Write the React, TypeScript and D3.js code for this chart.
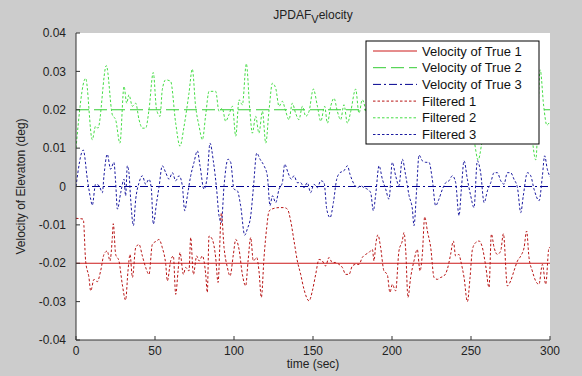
import React from 'react';
import * as d3 from 'd3';

const W = 582;
const H = 376;
const xDomain: [number, number] = [0, 300];
const yDomain: [number, number] = [-0.04, 0.04];
const xTicks = [0, 50, 100, 150, 200, 250, 300];
const yTicks = [-0.04, -0.03, -0.02, -0.01, 0, 0.01, 0.02, 0.03, 0.04];
const yTickLabels = ['-0.04', '-0.03', '-0.02', '-0.01', '0', '0.01', '0.02', '0.03', '0.04'];
const trueValues = [-0.02, 0.02, 0];
const legendLabels = ['Velocity of True 1', 'Velocity of True 2', 'Velocity of True 3', 'Filtered 1', 'Filtered 2', 'Filtered 3'];

type P = [number, number];

const filtered1: P[] = [
  [0, -0.0083], [4.6, -0.0085], [6.1, -0.0194], [8.2, -0.0237], [9.3, -0.0272], [11.4, -0.0242], [13.5, -0.0248],
  [15.6, -0.022], [17.7, -0.0177], [19.8, -0.0168], [21.5, -0.0194], [23.0, -0.0133], [23.6, -0.0097], [25.1, -0.0177],
  [27.2, -0.0194], [29.3, -0.0255], [31.4, -0.0296], [32.9, -0.022], [34.2, -0.0177], [35.7, -0.0237], [37.8, -0.0159],
  [39.9, -0.0151], [42.0, -0.0181], [44.1, -0.0211], [46.2, -0.0229], [48.3, -0.0151], [51.0, -0.0142], [52.5, -0.0138],
  [54.6, -0.0159], [56.8, -0.0203], [57.8, -0.0246], [59.9, -0.0194], [61.6, -0.0181], [63.1, -0.0281], [64.6, -0.022],
  [65.8, -0.0172], [68.0, -0.0229], [69.4, -0.0211], [71.5, -0.022], [72.6, -0.0133], [74.3, -0.0229], [76.4, -0.0181],
  [77.9, -0.0194], [80.0, -0.0181], [82.1, -0.0229], [83.1, -0.0276], [84.2, -0.0129], [86.3, -0.0138], [88.4, -0.0185],
  [89.9, -0.025], [92.0, -0.0069], [93.7, -0.0159], [95.8, -0.0211], [97.5, -0.0233], [99.6, -0.0177], [101.1, -0.0138],
  [103.2, -0.0164], [105.3, -0.0229], [107.4, -0.0259], [108.9, -0.0194], [110.6, -0.0133], [112.2, -0.0194],
  [114.4, -0.0185], [115.8, -0.022], [117.3, -0.0289], [119.0, -0.0185], [120.7, -0.0107], [122.2, -0.0064],
  [125.3, -0.0057], [128.5, -0.0055], [131.7, -0.0055], [133.8, -0.0059], [135.9, -0.009], [138.0, -0.0142],
  [140.1, -0.0194], [142.2, -0.0229], [144.3, -0.0268], [147.5, -0.0298], [149.6, -0.0272], [151.7, -0.0229],
  [153.8, -0.019], [155.9, -0.0194], [158.0, -0.0207], [160.1, -0.0185], [162.2, -0.0198], [164.3, -0.0198],
  [166.5, -0.0203], [168.6, -0.0211], [170.7, -0.0229], [172.8, -0.0229], [174.9, -0.0207], [177.0, -0.0203],
  [179.1, -0.0203], [181.2, -0.0185], [183.3, -0.0177], [185.4, -0.0172], [187.6, -0.0164], [188.6, -0.0194],
  [189.7, -0.0151], [191.1, -0.0126], [192.8, -0.0159], [194.9, -0.022], [197.0, -0.0229], [198.7, -0.0276],
  [200.2, -0.0255], [202.3, -0.0272], [204.4, -0.0168], [206.5, -0.0142], [207.6, -0.012], [208.7, -0.0168],
  [210.1, -0.0289], [211.8, -0.0237], [213.9, -0.0194], [216.0, -0.0164], [217.7, -0.022], [219.2, -0.0177],
  [220.7, -0.0079], [222.4, -0.0116], [224.5, -0.0159], [226.6, -0.0237], [228.7, -0.0242], [230.8, -0.0237],
  [232.9, -0.0233], [235.0, -0.0216], [237.1, -0.0177], [238.8, -0.0142], [240.3, -0.0181], [242.4, -0.0177],
  [243.5, -0.0194], [245.6, -0.0237], [247.7, -0.03], [249.4, -0.0237], [250.9, -0.0164], [253.0, -0.0146],
  [255.1, -0.0142], [257.2, -0.0159], [259.3, -0.0207], [261.4, -0.0263], [262.9, -0.0124], [264.6, -0.0159],
  [266.7, -0.0177], [268.8, -0.0168], [270.5, -0.0123], [273.0, -0.0259], [275.1, -0.0246], [277.2, -0.022],
  [279.4, -0.0194], [281.5, -0.0181], [283.6, -0.0159], [285.2, -0.0116], [286.7, -0.0185], [288.8, -0.022],
  [290.9, -0.0246], [293.0, -0.0255], [295.2, -0.0203], [297.3, -0.0255], [299.4, -0.0159], [300, -0.016],
];

const filtered2: P[] = [
  [0, 0.01], [6.1, 0.0282], [10.3, 0.0122], [12.4, 0.0157], [13.9, 0.0152], [19.2, 0.0315], [23.0, 0.0187],
  [25.1, 0.0174], [27.8, 0.0113], [30.4, 0.0261], [32.1, 0.0217], [33.5, 0.0239], [35.7, 0.0209], [37.8, 0.0217],
  [39.9, 0.0174], [42.0, 0.0152], [44.1, 0.0152], [46.2, 0.02], [48.9, 0.0297], [51.0, 0.02], [53.2, 0.0183],
  [54.6, 0.0252], [56.8, 0.0278], [59.9, 0.0274], [63.1, 0.0165], [65.8, 0.0105], [68.4, 0.0157], [71.5, 0.0243],
  [73.6, 0.0306], [75.7, 0.0209], [77.9, 0.0157], [80.0, 0.0122], [82.1, 0.0187], [84.2, 0.0248], [88.4, 0.0248],
  [90.5, 0.0196], [92.6, 0.0204], [94.7, 0.017], [96.8, 0.0187], [99.0, 0.0209], [101.1, 0.0131], [103.2, 0.0226],
  [105.3, 0.0213], [107.8, 0.032], [110.0, 0.02], [111.6, 0.0139], [113.7, 0.0183], [115.8, 0.0139], [118.0, 0.0196],
  [120.1, 0.0113], [122.2, 0.02], [124.3, 0.0269], [126.4, 0.0256], [128.5, 0.0209], [130.6, 0.0222], [132.7, 0.0196],
  [134.8, 0.0174], [136.9, 0.0217], [139.0, 0.0191], [141.1, 0.0174], [143.3, 0.0209], [145.4, 0.0183],
  [147.5, 0.0196], [150.2, 0.0254], [152.8, 0.0209], [154.9, 0.017], [157.4, 0.0209], [159.1, 0.0165],
  [161.2, 0.0209], [163.3, 0.023], [165.4, 0.0196], [167.5, 0.0174], [169.6, 0.0213], [171.8, 0.0165],
  [173.9, 0.0196], [177.0, 0.0254], [179.1, 0.0191], [181.2, 0.0226], [185, 0.018], [188, 0.024], [192, 0.017],
  [196, 0.022], [200, 0.026], [204, 0.019], [208, 0.015], [212, 0.021], [216, 0.027], [220, 0.02], [224, 0.016],
  [228, 0.022], [232, 0.019], [236, 0.025], [240, 0.018], [244, 0.014], [248, 0.021], [252, 0.012], [254.5, 0.0069],
  [256.5, 0.0105], [259, 0.019], [263, 0.024], [267, 0.018], [271, 0.022], [275, 0.016], [278.5, 0.0112],
  [282, 0.018], [285, 0.024], [288, 0.015], [291, 0.0069], [293.8, 0.0304], [296, 0.021], [298, 0.016], [300, 0.017],
];

const filtered3: P[] = [
  [0, 0.0], [4.6, 0.0095], [7.2, 0.0019], [9.3, -0.0033], [10.3, -0.0049], [12.4, 0.0006], [14.6, 0.0002],
  [16.7, -0.0016], [17.7, 0.0028], [19.8, 0.0084], [21.9, 0.0045], [24.0, 0.0063], [25.1, 0.001], [26.2, -0.0059],
  [28.3, -0.0016], [30.4, 0.0019], [31.4, -0.0024], [32.5, 0.0054], [33.5, 0.0036], [34.6, -0.0033], [36.3, -0.0102],
  [37.8, -0.0033], [39.9, 0.001], [42.0, 0.0028], [44.1, 0.0006], [46.2, 0.0019], [47.7, -0.0007], [48.9, -0.0098],
  [51.0, -0.0042], [52.5, -0.0003], [54.6, 0.0054], [56.8, 0.0036], [58.9, 0.0019], [61.0, 0.0036], [63.1, 0.0015],
  [65.2, 0.0028], [67.3, 0.0002], [68.8, -0.0063], [70.5, -0.0024], [72.6, 0.0028], [74.7, 0.0063], [76.8, 0.0093],
  [78.5, 0.0054], [81.0, -0.0007], [83.1, 0.0028], [84.8, 0.0113], [86.9, 0.0067], [89.0, -0.0007], [90.5, -0.0076],
  [92.0, -0.0094], [93.7, 0.0002], [96.2, 0.0071], [97.9, 0.0063], [100.0, -0.0007], [102.1, -0.0011],
  [104.2, -0.005], [106.8, -0.0127], [108.4, -0.0111], [110.6, -0.0076], [112.2, -0.0007], [114.4, 0.0087],
  [116.5, 0.0071], [119.0, 0.0054], [121.1, 0.0028], [122.8, -0.005], [124.3, -0.0024], [126.4, -0.0042],
  [128.5, -0.0007], [130.6, 0.001], [132.1, 0.0058], [134.2, 0.0036], [136.3, 0.0019], [138.0, 0.0028],
  [140.1, 0.001], [142.2, 0.001], [144.3, -0.0003], [146.4, 0.001], [148.5, -0.0016], [150.6, 0.0006],
  [152.8, -0.0003], [154.9, 0.0015], [157.0, 0.001], [158.7, -0.0059], [160.8, -0.0081], [162.9, -0.0042],
  [165.0, 0.0019], [167.1, 0.0036], [169.6, 0.0041], [171.8, 0.0054], [173.4, 0.0032], [176.0, 0.0006],
  [178.1, -0.0003], [180.2, 0.0002], [182.3, -0.0003], [184.4, -0.0007], [186.5, -0.0016], [188.2, -0.0063],
  [189.7, -0.002], [191.8, 0.0054], [193.9, 0.0019], [196.0, -0.0007], [198.1, -0.0033], [200.2, 0.0063],
  [202.3, 0.0028], [204.4, 0.0002], [206.5, 0.0071], [208.7, 0.0028], [210.8, -0.0024], [212.9, -0.0059],
  [213.9, -0.0102], [215.6, -0.0007], [217.1, 0.0082], [219.2, 0.0067], [221.3, 0.0063], [223.4, 0.0063],
  [225.5, 0.0019], [227.6, -0.005], [229.7, -0.0033], [231.9, -0.0007], [234.0, 0.001], [236.1, 0.0015],
  [238.2, 0.0028], [240.3, 0.001], [242.4, -0.0076], [243.9, -0.0007], [245.6, 0.0067], [247.7, 0.0019],
  [249.8, -0.0024], [251.9, -0.0055], [254.0, 0.0067], [256.1, 0.0036], [258.3, -0.0042], [260.4, -0.0011],
  [262.5, 0.001], [264.6, 0.0036], [266.7, 0.0036], [268.8, 0.0015], [270.9, 0.0006], [273.0, 0.0036],
  [275.1, 0.0036], [277.2, 0.0019], [279.4, -0.0003], [281.5, -0.0068], [283.1, -0.0024], [285.7, 0.0036],
  [287.8, 0.0028], [289.9, -0.0007], [293.1, -0.0037], [295.2, 0.0028], [296.6, 0.008], [298.3, 0.0045],
  [300, 0.0025],
];

const RED = '#cc1a1a';
const RED_F = '#b81414';
const GREEN = '#33cc33';
const GREEN_F = '#44dd44';
const BLUE = '#000090';
const BLUE_F = '#1a1aa0';
const FONT = '"Liberation Sans", Arial, Helvetica, sans-serif';

const DOT = '2.5,2';
const styles = [
  { color: RED, dash: 'none' },
  { color: GREEN, dash: '13,5' },
  { color: BLUE, dash: '8,3,2,3' },
  { color: RED_F, dash: DOT },
  { color: GREEN_F, dash: DOT },
  { color: BLUE_F, dash: DOT },
];

export default function App() {
  const left = 76, right = 550, top = 33, bottom = 340;
  const x = d3.scaleLinear().domain(xDomain).range([left, right]);
  const y = d3.scaleLinear().domain(yDomain).range([bottom, top]);
  const line = d3.line<P>().x(d => x(d[0])).y(d => y(d[1])).curve(d3.curveMonotoneX);
  const filteredSeries = [filtered1, filtered2, filtered3];

  const lgX = 366, lgY = 41, lgW = 173, lgH = 103;
  const rowH = 16.7;

  return (
    <svg width={W} height={H} style={{ position: 'absolute', left: 0, top: 0, display: 'block' }} fontFamily={FONT}>
      <defs>
        <clipPath id="plotclip">
          <rect x={left} y={top} width={right - left} height={bottom - top} />
        </clipPath>
      </defs>
      <rect x={0} y={0} width={W} height={H} fill="#cccccc" />
      <rect x={left} y={top} width={right - left} height={bottom - top} fill="#ffffff" />

      <g clipPath="url(#plotclip)">
        {trueValues.map((v, i) => (
          <line key={'t' + i} x1={x(xDomain[0])} x2={x(xDomain[1])} y1={y(v)} y2={y(v)}
            stroke={styles[i].color} strokeWidth={1} strokeDasharray={styles[i].dash} />
        ))}
        {filteredSeries.map((s, i) => (
          <path key={'f' + i} d={line(s) || ''} fill="none" stroke={styles[i + 3].color}
            strokeWidth={1} strokeDasharray={DOT} />
        ))}
      </g>

      {/* axes */}
      <line x1={left} x2={left} y1={top} y2={bottom} stroke="#333" strokeWidth={1} />
      <line x1={left} x2={right} y1={bottom} y2={bottom} stroke="#333" strokeWidth={1} />
      {yTicks.map((t, i) => (
        <g key={'yt' + i}>
          <line x1={left} x2={left + 4} y1={y(t)} y2={y(t)} stroke="#333" />
          <text x={left - 10} y={y(t)} dy="0.35em" textAnchor="end" fontSize={12} fill="#222">{yTickLabels[i]}</text>
        </g>
      ))}
      {xTicks.map((t, i) => (
        <g key={'xt' + i}>
          <line x1={x(t)} x2={x(t)} y1={bottom} y2={bottom - 4} stroke="#333" />
          <text x={x(t)} y={bottom + 15} textAnchor="middle" fontSize={12} fill="#222">{t}</text>
        </g>
      ))}

      <text x={(left + right) / 2} y={368} textAnchor="middle" fontSize={12} fill="#222">time (sec)</text>
      <text transform={`translate(25,${(top + bottom) / 2}) rotate(-90)`} textAnchor="middle" fontSize={12} fill="#222">
        Velocity of Elevaton (deg)
      </text>
      <text x={(left + right) / 2} y={19} textAnchor="middle" fontSize={12} fill="#222">
        JPDAF<tspan fontSize={11} dy={4}>V</tspan><tspan dy={-4}>elocity</tspan>
      </text>

      {/* legend */}
      <rect x={lgX} y={lgY} width={lgW} height={lgH} fill="#ffffff" stroke="#000" strokeWidth={1} />
      {legendLabels.map((lab, i) => {
        const cy = lgY + 10 + i * rowH;
        return (
          <g key={'lg' + i}>
            <line x1={lgX + 7} x2={lgX + 51} y1={cy} y2={cy} stroke={styles[i].color} strokeWidth={1}
              strokeDasharray={styles[i].dash} />
            <text x={lgX + 56} y={cy} dy="0.35em" fontSize={13} fill="#111">{lab}</text>
          </g>
        );
      })}
    </svg>
  );
}
